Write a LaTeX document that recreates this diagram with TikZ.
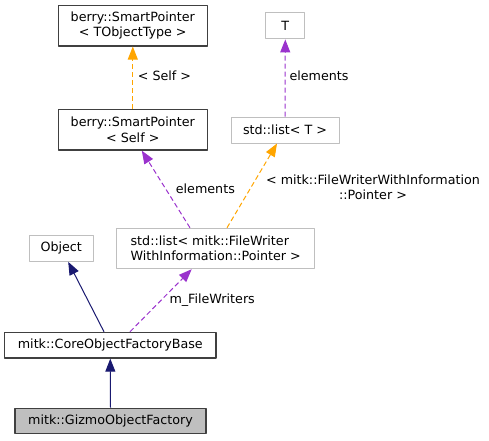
\documentclass[tikz,border=0pt]{standalone}
\usepackage{fontspec}
\setmainfont{DejaVu Sans}
\usetikzlibrary{arrows.meta}
\definecolor{boxdark}{HTML}{404040}
\definecolor{boxgray}{HTML}{BFBFBF}
\definecolor{inhblue}{HTML}{191970}
\definecolor{usepurple}{HTML}{9A32CD}
\definecolor{tplorange}{HTML}{FFA500}
\begin{document}
\begin{tikzpicture}[x=1pt,y=-1pt,>={Triangle[length=13pt,width=10pt]},line join=round,
	font=\fontsize{12.7}{15.3}\selectfont,
	cls/.style={draw=boxdark,line width=1.2pt,fill=white,inner sep=0pt,align=center},
	ext/.style={draw=boxgray,line width=1pt,fill=white,inner sep=0pt,align=center},
	inh/.style={->,draw=inhblue,line width=1pt},
	use/.style={->,draw=usepurple,line width=1pt,dash pattern=on 5pt off 3pt},
	tpl/.style={->,draw=tplorange,line width=1pt,dash pattern=on 5pt off 3pt},
	lbl/.style={anchor=west,inner sep=0pt}]
		\useasboundingbox (0,0) rectangle (489,440);
		%Lớp
		\node[cls,minimum width=149pt,minimum height=40.7pt] (sptype) at (132.8,25.6) {berry::SmartPointer\\< TObjectType >};
		\node[ext,minimum width=39.3pt,minimum height=26.3pt] (T) at (285.3,25.8) {T};
		\node[cls,minimum width=149pt,minimum height=40.7pt] (spself) at (132.8,129.7) {berry::SmartPointer\\< Self >};
		\node[ext,minimum width=108pt,minimum height=26pt] (listT) at (285,130) {std::list< T >};
		\node[ext,minimum width=64.3pt,minimum height=26.3pt] (object) at (61.2,248.2) {Object};
		\node[ext,minimum width=198pt,minimum height=40.4pt,align=left] (listFW) at (215.7,248.5) {std::list< mitk::FileWriter\\WithInformation::Pointer >};
		\node[cls,minimum width=211.3pt,minimum height=25.7pt] (core) at (110.3,345.2) {mitk::CoreObjectFactoryBase};
		\node[cls,fill=boxgray,minimum width=191pt,minimum height=25.4pt] (gizmo) at (110.5,421) {mitk::GizmoObjectFactory};
		%Mũi tên
		\draw[tpl] (spself.north) -- (sptype.south);
		\draw[use] (listT.north) -- (T.south);
		\draw[use] ([xshift=-25.7pt]listFW.north) -- ([xshift=9pt]spself.south);
		\draw[tpl] ([xshift=11.3pt]listFW.north) -- ([xshift=-8pt]listT.south);
		\draw[inh] ([xshift=-6.3pt]core.north) -- ([xshift=7pt]object.south);
		\draw[use] ([xshift=19.7pt]core.north) -- ([xshift=-24pt]listFW.south);
		\draw[inh] (gizmo.north) -- (core.south);
		%Nhãn
		\node[lbl] (lself) at (137.7,76) {< Self >};
		\node[lbl] (lelemT) at (289.3,76) {elements};
		\node[lbl] (lelemSP) at (175.7,188.3) {elements};
		\node[inner sep=0pt,align=center] (lpointer) at (373,187.5) {< mitk::FileWriterWithInformation\\::Pointer >};
		\node[lbl] (lwriters) at (169.3,300) {m\_FileWriters};
	\end{tikzpicture}
\end{document}
